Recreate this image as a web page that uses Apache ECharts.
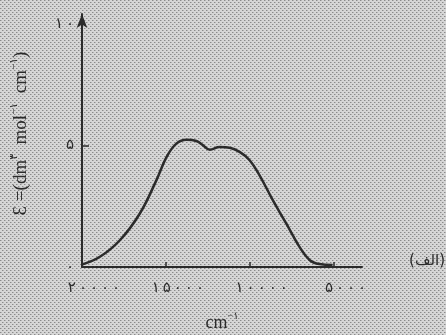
<!DOCTYPE html>
<html>
<head>
<meta charset="utf-8">
<script src="https://cdn.jsdelivr.net/npm/echarts@6/dist/echarts.min.js"></script>
<style>
  html, body { margin: 0; padding: 0; }
  #chart { width: 446px; height: 335px; }
</style>
</head>
<body>
<div id="chart"></div>
<script>
// wavenumber (cm-1) and molar absorptivity
var waveNumber = [20000, 18930, 17740, 16550, 15560, 14960, 14370, 13770, 13180, 12780, 12380, 11790, 11190, 10600, 10000, 9410, 8620, 7820, 7030, 6430, 5840, 5060];
var epsilon = [0.1, 0.42, 1.1, 2.2, 3.57, 4.52, 5.07, 5.23, 5.18, 5.0, 4.82, 4.93, 4.9, 4.73, 4.39, 3.77, 2.75, 1.79, 0.83, 0.29, 0.12, 0.08];
var xLabelValues = [20000, 15000, 10000, 5000];
var xTickValues = [15000, 10000, 5000];
var yLabelValues = [0, 5, 10];

var faDigits = '۰۱۲۳۴۵۶۷۸۹';
function toFa(n) {
  return String(n).split('').map(function (d) { return faDigits[+d]; }).join('\u2009');
}

// halftone look of the scanned page
var pat = document.createElement('canvas');
pat.width = 4; pat.height = 4;
var g = pat.getContext('2d');
g.fillStyle = '#d6d6d6';
g.fillRect(0, 0, 4, 4);
g.fillStyle = '#8a8a8a';
g.fillRect(0, 0, 1, 1);
g.fillRect(2, 2, 1, 1);
g.fillStyle = '#b4b4b4';
g.fillRect(1, 0, 1, 1);
g.fillRect(3, 2, 1, 1);
document.getElementById('chart').style.background = 'url(' + pat.toDataURL() + ')';

var ink = '#2b2b2b';
var font = '"Liberation Serif", "DejaVu Sans", serif';

var chart = echarts.init(document.getElementById('chart'));
chart.setOption({
  backgroundColor: 'transparent',
  animation: false,
  grid: { left: 82, right: 84, top: 14, bottom: 68, outerBoundsMode: 'none' },
  xAxis: {
    type: 'value',
    inverse: true,
    min: 3300,
    max: 20000,
    name: 'cm{s|−۱}',
    nameLocation: 'middle',
    nameGap: 44,
    nameTextStyle: {
      color: ink, fontFamily: font, fontSize: 18,
      rich: { s: { fontSize: 10, fontFamily: font, color: ink, verticalAlign: 'top', padding: [0, 0, 14, 0] } }
    },
    axisLine: { lineStyle: { color: ink, width: 2 } },
    axisTick: { show: true, inside: true, length: 5, customValues: xTickValues, lineStyle: { color: ink, width: 1.5 } },
    axisLabel: {
      customValues: xLabelValues,
      formatter: function (v) { return toFa(v); },
      color: ink, fontFamily: '"DejaVu Sans"', fontSize: 15, margin: 14,
      padding: [0, 0, 0, 24]
    },
    splitLine: { show: false }
  },
  yAxis: {
    type: 'value',
    min: 0,
    max: 10.4,
    name: '{a|Ɛ =(dm}{s|۳}{a|  mol}{s|−۱}{a|  cm}{s|−۱}{a|)}',
    nameLocation: 'middle',
    nameGap: 48,
    nameRotate: 90,
    nameTextStyle: {
      padding: [0, 0, 0, 14],
      rich: {
        a: { fontSize: 19, fontFamily: font, color: ink },
        s: { fontSize: 11, fontFamily: font, color: ink, verticalAlign: 'top', padding: [0, 0, 14, 0] }
      }
    },
    axisLine: { show: true, symbol: ['none', 'arrow'], symbolSize: [8, 14], lineStyle: { color: ink, width: 2 } },
    axisTick: { show: true, inside: true, length: 7, customValues: [5], lineStyle: { color: ink, width: 1.5 } },
    axisLabel: {
      customValues: yLabelValues,
      formatter: function (v) { return toFa(v); },
      color: ink, fontFamily: '"DejaVu Sans"', fontSize: 15, margin: 8
    },
    splitLine: { show: false }
  },
  graphic: [{
    type: 'text',
    right: 1,
    top: 254,
    style: { text: '(الف)', fill: ink, font: '15px "DejaVu Sans"' }
  }],
  series: [{
    type: 'line',
    data: waveNumber.map(function (w, i) { return [w, epsilon[i]]; }),
    smooth: 0.4,
    symbol: 'none',
    lineStyle: { color: ink, width: 2.5 }
  }]
});
</script>
</body>
</html>
